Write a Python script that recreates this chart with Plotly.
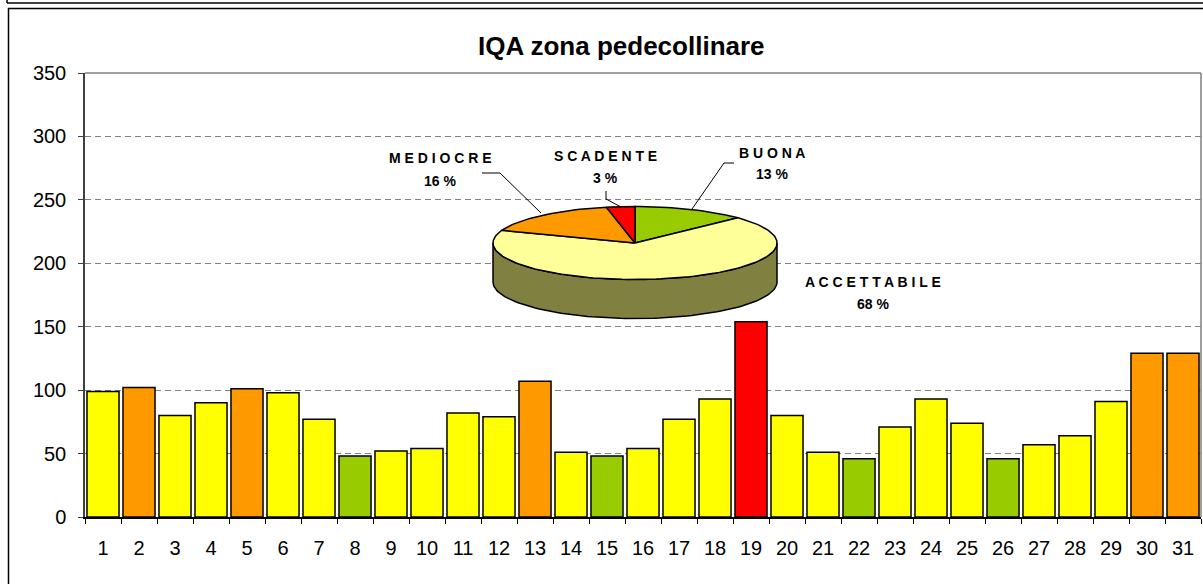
import math
import plotly.graph_objects as go

# ---------------- data ----------------
giorni = [str(i) for i in range(1, 32)]
iqa = [99, 102, 80, 90, 101, 98, 77, 48, 52, 54, 82, 79, 107, 51, 48, 54, 77, 93,
       154, 80, 51, 46, 71, 93, 74, 46, 57, 64, 91, 129, 129]
classe = ["ACCETTABILE", "MEDIOCRE", "ACCETTABILE", "ACCETTABILE", "MEDIOCRE",
          "ACCETTABILE", "ACCETTABILE", "BUONA", "ACCETTABILE", "ACCETTABILE",
          "ACCETTABILE", "ACCETTABILE", "MEDIOCRE", "ACCETTABILE", "BUONA",
          "ACCETTABILE", "ACCETTABILE", "ACCETTABILE", "SCADENTE", "ACCETTABILE",
          "ACCETTABILE", "BUONA", "ACCETTABILE", "ACCETTABILE", "ACCETTABILE",
          "BUONA", "ACCETTABILE", "ACCETTABILE", "ACCETTABILE", "MEDIOCRE", "MEDIOCRE"]
classi_torta = ["BUONA", "ACCETTABILE", "MEDIOCRE", "SCADENTE"]
y_ticks = [0, 50, 100, 150, 200, 250, 300, 350]
titolo = "IQA zona pedecollinare"

# ---------------- styles ----------------
bar_col = {"BUONA": "#99CC00", "ACCETTABILE": "#FFFF00", "MEDIOCRE": "#FF9900", "SCADENTE": "#FF0000"}
pie_top = {"BUONA": "#99CC00", "ACCETTABILE": "#FFFF99", "MEDIOCRE": "#FF9900", "SCADENTE": "#FF0000"}
pie_side = {"BUONA": "#4D6600", "ACCETTABILE": "#808040", "MEDIOCRE": "#804D00", "SCADENTE": "#800000"}
FONT = "Liberation Sans, Arial, sans-serif"

W, H = 1203, 584
L, R, T, B = 85, 1201, 73, 517  # plot area in pixels

fig = go.Figure()
fig.add_trace(go.Bar(
    x=giorni, y=iqa,
    marker=dict(color=[bar_col[c] for c in classe], line=dict(color="black", width=1.5)),
    showlegend=False, hoverinfo="x+y",
))

# ---------------- 3D pie on a pixel-space overlay axis ----------------
counts = [classe.count(c) for c in classi_torta]
tot = sum(counts)
cx, cy, a, b, h = 635, 243, 142, 36.5, 39


def pt(theta_deg, dy=0.0):
    t = math.radians(theta_deg)
    return cx + a * math.sin(t), cy - b * math.cos(t) + dy


def arc(t0, t1, dy=0.0):
    n = max(2, int(abs(t1 - t0) / 2) + 2)
    xs, ys = [], []
    for i in range(n + 1):
        x, y = pt(t0 + (t1 - t0) * i / n, dy)
        xs.append(x)
        ys.append(y)
    return xs, ys


start = 0.0
slices = []
for c, n in zip(classi_torta, counts):
    end = start + 360.0 * n / tot
    slices.append((c, start, end))
    start = end

# sides (front half only: 90..270 deg clockwise from top)
for c, s, e in slices:
    s2, e2 = max(s, 90), min(e, 270)
    if e2 > s2:
        xt, yt = arc(s2, e2)
        xb, yb = arc(s2, e2, dy=h)
        fig.add_trace(go.Scatter(
            x=xt + xb[::-1] + [xt[0]], y=yt + yb[::-1] + [yt[0]],
            xaxis="x2", yaxis="y2", mode="lines", fill="toself",
            fillcolor=pie_side[c], line=dict(color="black", width=1.5),
            showlegend=False, hoverinfo="skip",
        ))

# top faces
for (c, s, e), n in zip(slices, counts):
    xs, ys = arc(s, e)
    fig.add_trace(go.Scatter(
        x=[cx] + xs + [cx], y=[cy] + ys + [cy],
        xaxis="x2", yaxis="y2", mode="lines", fill="toself",
        fillcolor=pie_top[c], line=dict(color="black", width=1.5),
        showlegend=False, name=c, text=f"{c}: {n}", hoverinfo="text",
    ))


def px_x(p):
    return (p - L) / (R - L)


def px_y(p):
    return (B - p) / (B - T)


# ---------------- labels ----------------
pct = {c: round(100 * n / tot) for c, n in zip(classi_torta, counts)}
lab_pos = {  # (x, y of name line, y of percent line) in pixels
    "MEDIOCRE": (440, 158, 181),
    "SCADENTE": (605, 156, 178),
    "BUONA": (772, 153, 174),
    "ACCETTABILE": (873, 282, 304),
}
annotations = []
for c in classi_torta:
    x, y1, y2 = lab_pos[c]
    annotations.append(dict(x=x, y=y1, xref="x2", yref="y2", text=" ".join(c),
                            showarrow=False, xanchor="center", yanchor="middle",
                            font=dict(family=FONT, size=14, color="black", weight="bold")))
    annotations.append(dict(x=x, y=y2, xref="x2", yref="y2", text=f"{pct[c]} %",
                            showarrow=False, xanchor="center", yanchor="middle",
                            font=dict(family=FONT, size=14, color="black", weight="bold")))

annotations.append(dict(x=px_x(621), y=px_y(46), xref="paper", yref="paper",
                        text="<b>" + titolo + "</b>", showarrow=False,
                        xanchor="center", yanchor="middle",
                        font=dict(family=FONT, size=26, color="black")))

shapes = [
    # leader lines
    dict(type="path", xref="x2", yref="y2", path="M 692,209 L 724,163 L 734,163",
         line=dict(color="black", width=1)),
    dict(type="path", xref="x2", yref="y2", path="M 606,191 L 606,199 L 621,207",
         line=dict(color="black", width=1)),
    dict(type="path", xref="x2", yref="y2", path="M 482,173 L 500,173 L 541,213",
         line=dict(color="black", width=1)),
    # plot-area frame (top/right grey)
    dict(type="line", xref="paper", yref="paper", x0=0, x1=1, y0=1, y1=1,
         line=dict(color="#808080", width=1.5)),
    dict(type="line", xref="paper", yref="paper", x0=1, x1=1, y0=0, y1=1,
         line=dict(color="#808080", width=1.5)),
    # outer chart frames
    dict(type="line", xref="paper", yref="paper", x0=px_x(7), x1=px_x(1230), y0=px_y(3), y1=px_y(3),
         line=dict(color="black", width=1.5)),
    dict(type="line", xref="paper", yref="paper", x0=px_x(7), x1=px_x(7), y0=px_y(-5), y1=px_y(3),
         line=dict(color="black", width=1.5)),
    dict(type="rect", xref="paper", yref="paper", x0=px_x(8.5), x1=px_x(1230), y0=px_y(8.5), y1=px_y(620),
         line=dict(color="black", width=1.5)),
]

fig.update_layout(
    width=W, height=H,
    margin=dict(l=L, r=W - R, t=T, b=H - B, pad=0),
    paper_bgcolor="white", plot_bgcolor="white",
    bargap=0.11,
    font=dict(family=FONT, size=20, color="black"),
    xaxis=dict(type="category", tickson="boundaries", ticks="outside", ticklen=5,
               tickcolor="black", showline=True, linecolor="black", linewidth=1.5,
               showgrid=False, tickfont=dict(size=20), ticklabelstandoff=12, fixedrange=True),
    yaxis=dict(range=[0, 350], tickvals=y_ticks, ticks="outside", ticklen=5,
               tickcolor="#404040", showline=True, linecolor="#404040", linewidth=1.5,
               showgrid=True, gridcolor="#808080", griddash="6px,4px", gridwidth=1,
               zeroline=False, tickfont=dict(size=20), ticklabelstandoff=8, fixedrange=True),
    xaxis2=dict(overlaying="x", range=[L, R], visible=False, fixedrange=True),
    yaxis2=dict(overlaying="y", range=[B, T], visible=False, fixedrange=True),
    annotations=annotations,
    shapes=shapes,
)

fig.write_html("out.html", config={"displayModeBar": False},
               post_script="document.body.style.margin='0';document.body.style.overflow='hidden';")
